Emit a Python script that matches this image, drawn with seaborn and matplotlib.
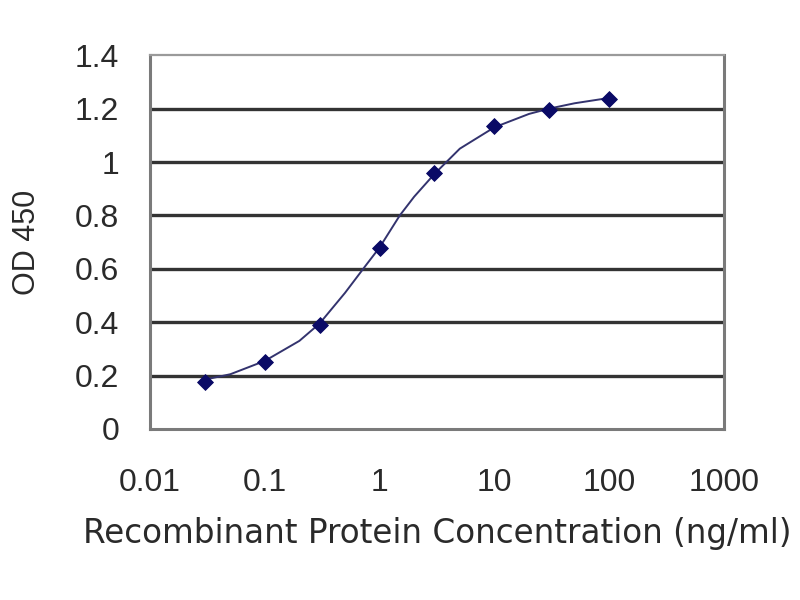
import numpy as np
import pandas as pd
import matplotlib
matplotlib.use("Agg")
import matplotlib.pyplot as plt
import seaborn as sns
from matplotlib.ticker import FixedLocator, FixedFormatter, NullLocator

# measured points (ng/ml, OD 450)
conc = [0.03, 0.1, 0.3, 1, 3, 10, 30, 100]
od450 = [0.176, 0.25, 0.39, 0.678, 0.96, 1.133, 1.195, 1.237]

# fitted curve
curve_conc = [0.03, 0.05, 0.1, 0.2, 0.3, 0.5, 0.75, 1, 1.5, 2, 3, 5, 10, 20, 30, 50, 100]
curve_od = [0.185, 0.205, 0.255, 0.33, 0.395, 0.51, 0.61, 0.68, 0.80, 0.87,
            0.955, 1.05, 1.13, 1.18, 1.20, 1.22, 1.24]

x_ticks = [0.01, 0.1, 1, 10, 100, 1000]
x_tick_labels = ["0.01", "0.1", "1", "10", "100", "1000"]
y_ticks = [0, 0.2, 0.4, 0.6, 0.8, 1.0, 1.2, 1.4]
y_tick_labels = ["0", "0.2", "0.4", "0.6", "0.8", "1", "1.2", "1.4"]

sns.set_style("white")
plt.rcParams["font.family"] = ["Liberation Sans", "DejaVu Sans"]

pts = pd.DataFrame({"conc": conc, "od": od450})
fit = pd.DataFrame({"conc": curve_conc, "od": curve_od})

TXT = "#2a2a2a"

fig = plt.figure(figsize=(8, 6), dpi=100)
ax = fig.add_axes([0.1875, 0.285, 0.7175, 0.623])

ax.set_xscale("log")
ax.set_xlim(0.01, 1000)
ax.set_ylim(0, 1.4)

for y in y_ticks[1:-1]:
    ax.axhline(y, color="#333333", lw=2.4, zorder=1)

sns.lineplot(data=fit, x="conc", y="od", ax=ax, color="#33336e", lw=1.4, zorder=3)
sns.scatterplot(data=pts, x="conc", y="od", ax=ax, marker="D", s=65,
                color="#0a0a66", edgecolor="#0a0a66", zorder=4)

ax.xaxis.set_major_locator(FixedLocator(x_ticks))
ax.xaxis.set_major_formatter(FixedFormatter(x_tick_labels))
ax.xaxis.set_minor_locator(NullLocator())
ax.yaxis.set_major_locator(FixedLocator(y_ticks))
ax.yaxis.set_major_formatter(FixedFormatter(y_tick_labels))

for side in ["left", "bottom", "right", "top"]:
    ax.spines[side].set_visible(True)
    ax.spines[side].set_color("#7a7a7a")
    ax.spines[side].set_linewidth(2.2)
ax.spines["top"].set_color("#9a9a9a")
ax.spines["top"].set_linewidth(1.6)

ax.tick_params(axis="x", direction="in", length=5, width=1.5, color="#666666",
               labelsize=23, labelcolor=TXT, pad=28)
ax.tick_params(axis="y", direction="out", length=4, width=1.5, color="#666666",
               labelsize=23, labelcolor=TXT, pad=18)

ax.set_xlabel("Recombinant Protein Concentration (ng/ml)", fontsize=23.5,
              family=["DejaVu Sans"], color=TXT, labelpad=14)
ax.set_ylabel("OD 450", fontsize=22, color=TXT, labelpad=24)

fig.savefig("out.png", dpi=100)
